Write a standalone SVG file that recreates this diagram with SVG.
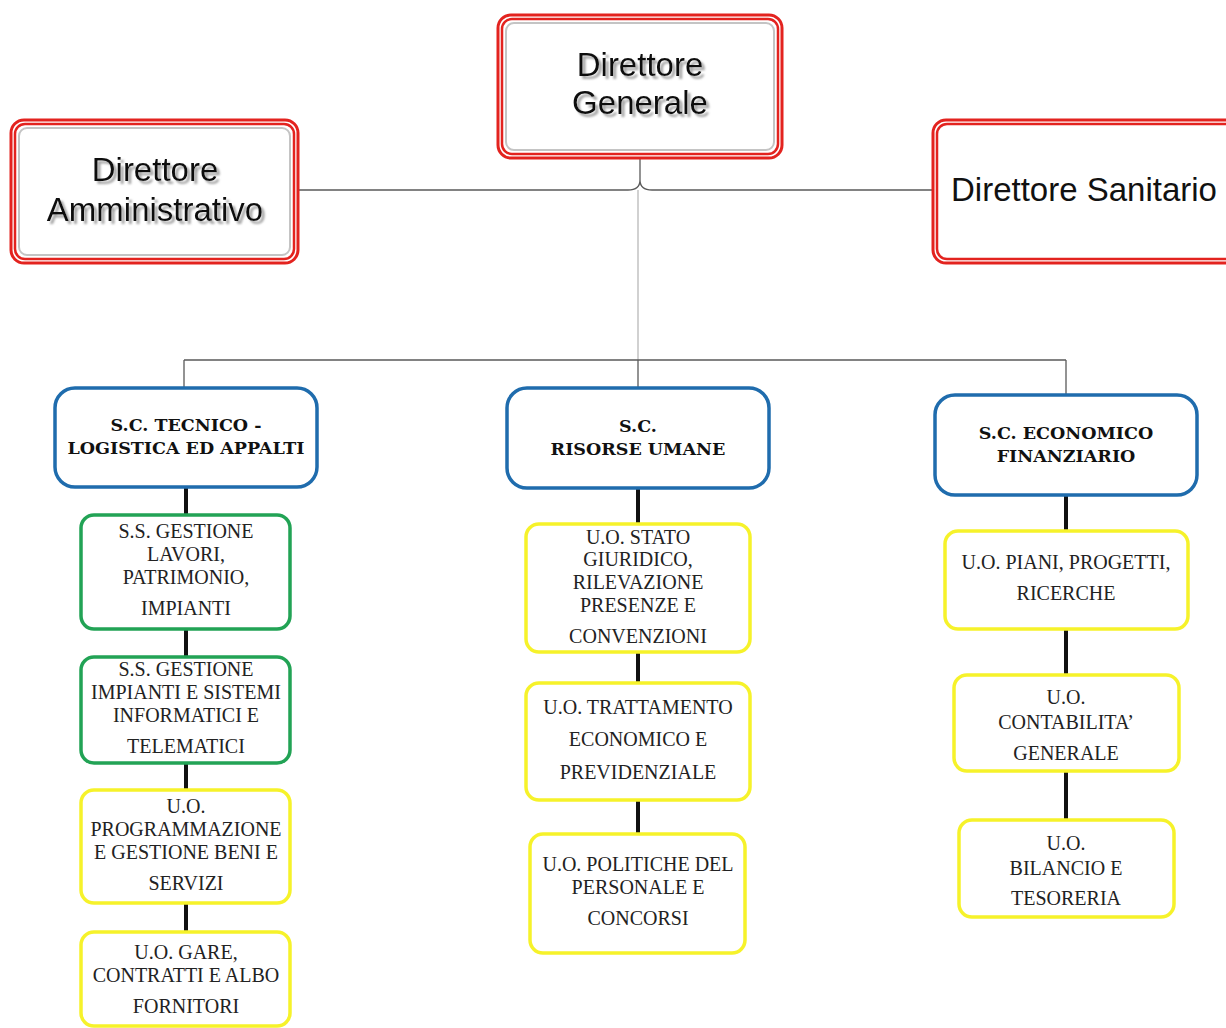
<svg xmlns="http://www.w3.org/2000/svg" width="1226" height="1028" viewBox="0 0 1226 1028">
<defs>
<filter id="tshadow" x="-10%" y="-20%" width="130%" height="150%">
<feDropShadow dx="3" dy="3" stdDeviation="0.8" flood-color="#9a9a9a" flood-opacity="0.9"/>
</filter>
</defs>
<style>
.r1{fill:#fff;stroke:#e3231f;stroke-width:3}
.r2{fill:none;stroke:#e3231f;stroke-width:2.5}
.r3{fill:none;stroke:#c4c4c4;stroke-width:2}
.dt{font-family:"Liberation Sans",Arial,sans-serif;font-size:33px;fill:#111;text-anchor:middle}
.shd{filter:url(#tshadow)}
.sc{fill:#fff;stroke:#1f6cad;stroke-width:3.5}
.gr{fill:#fff;stroke:#22a355;stroke-width:3.5}
.ye{fill:#fff;stroke:#f6f22a;stroke-width:3.5}
.bh{font-family:"DejaVu Serif",serif;font-weight:bold;font-size:17.5px;fill:#111;text-anchor:middle}
.tx{font-family:"Liberation Serif","Times New Roman",serif;font-size:20px;fill:#222;text-anchor:middle}
.thin{fill:none;stroke:#5a5a5a;stroke-width:1.3}
.thick{fill:none;stroke:#111;stroke-width:4}
</style>
<g id="connectors">
<path class="thin" d="M299 190 H628 Q640 190 640 180 Q640 190 652 190 H932"/>
<path class="thin" d="M640 180 V159"/>
<path d="M638 190 V360" fill="none" stroke="#b8b8b8" stroke-width="1.3"/>
<path class="thin" d="M184 360 H1066 M184 360 V388 M638 360 V388 M1066 360 V395"/>
<path class="thick" d="M186 487 V515 M186 629 V657 M186 763 V790 M186 903 V932"/>
<path class="thick" d="M638 488 V524 M638 652 V683 M638 800 V834"/>
<path class="thick" d="M1066 495 V531 M1066 629 V675 M1066 771 V820"/>
</g>
<g id="dg">
<rect class="r1" x="498" y="15" width="284" height="143" rx="13"/>
<rect class="r2" x="502" y="19" width="276" height="135" rx="10"/>
<rect class="r3" x="506" y="23" width="268" height="127" rx="8"/>
<text class="dt shd" x="640" y="76">Direttore</text>
<text class="dt shd" x="640" y="114">Generale</text>
</g>
<g id="da">
<rect class="r1" x="11" y="120" width="287" height="143" rx="13"/>
<rect class="r2" x="15" y="124" width="279" height="135" rx="10"/>
<rect class="r3" x="19" y="128" width="271" height="127" rx="8"/>
<text class="dt shd" x="155" y="181">Direttore</text>
<text class="dt shd" x="155" y="221">Amministrativo</text>
</g>
<g id="ds">
<rect class="r1" x="933" y="120" width="310" height="143" rx="13"/>
<rect class="r2" x="937" y="124" width="302" height="135" rx="10"/>
<text class="dt" x="1084" y="201">Direttore Sanitario</text>
</g>
<g id="sc-tecnico">
<rect class="sc" x="55" y="388" width="262" height="99" rx="20"/>
<text class="bh" x="186" y="431">S.C. TECNICO -</text>
<text class="bh" x="186" y="454">LOGISTICA ED APPALTI</text>
</g>
<g id="sc-risorse">
<rect class="sc" x="507" y="388" width="262" height="100" rx="20"/>
<text class="bh" x="638" y="432">S.C.</text>
<text class="bh" x="638" y="455">RISORSE UMANE</text>
</g>
<g id="sc-economico">
<rect class="sc" x="935" y="395" width="262" height="100" rx="20"/>
<text class="bh" x="1066" y="439">S.C. ECONOMICO</text>
<text class="bh" x="1066" y="462">FINANZIARIO</text>
</g>
<g id="ss-lavori">
<rect class="gr" x="81" y="515" width="209" height="114" rx="13"/>
<text class="tx" x="186" y="538">S.S. GESTIONE</text>
<text class="tx" x="186" y="561">LAVORI,</text>
<text class="tx" x="186" y="584">PATRIMONIO,</text>
<text class="tx" x="186" y="615">IMPIANTI</text>
</g>
<g id="ss-impianti">
<rect class="gr" x="81" y="657" width="209" height="106" rx="13"/>
<text class="tx" x="186" y="676">S.S. GESTIONE</text>
<text class="tx" x="186" y="699">IMPIANTI E SISTEMI</text>
<text class="tx" x="186" y="722">INFORMATICI E</text>
<text class="tx" x="186" y="753">TELEMATICI</text>
</g>
<g id="uo-programmazione">
<rect class="ye" x="81" y="790" width="209" height="113" rx="13"/>
<text class="tx" x="186" y="813">U.O.</text>
<text class="tx" x="186" y="836">PROGRAMMAZIONE</text>
<text class="tx" x="186" y="859">E GESTIONE BENI E</text>
<text class="tx" x="186" y="890">SERVIZI</text>
</g>
<g id="uo-gare">
<rect class="ye" x="81" y="932" width="209" height="94" rx="13"/>
<text class="tx" x="186" y="959">U.O. GARE,</text>
<text class="tx" x="186" y="982">CONTRATTI E ALBO</text>
<text class="tx" x="186" y="1013">FORNITORI</text>
</g>
<g id="uo-stato">
<rect class="ye" x="526" y="524" width="224" height="128" rx="13"/>
<text class="tx" x="638" y="544">U.O. STATO</text>
<text class="tx" x="638" y="566">GIURIDICO,</text>
<text class="tx" x="638" y="589">RILEVAZIONE</text>
<text class="tx" x="638" y="612">PRESENZE E</text>
<text class="tx" x="638" y="643">CONVENZIONI</text>
</g>
<g id="uo-trattamento">
<rect class="ye" x="526" y="683" width="224" height="117" rx="13"/>
<text class="tx" x="638" y="714">U.O. TRATTAMENTO</text>
<text class="tx" x="638" y="746">ECONOMICO E</text>
<text class="tx" x="638" y="779">PREVIDENZIALE</text>
</g>
<g id="uo-politiche">
<rect class="ye" x="530" y="834" width="215" height="119" rx="13"/>
<text class="tx" x="638" y="871">U.O. POLITICHE DEL</text>
<text class="tx" x="638" y="894">PERSONALE E</text>
<text class="tx" x="638" y="925">CONCORSI</text>
</g>
<g id="uo-piani">
<rect class="ye" x="945" y="531" width="243" height="98" rx="13"/>
<text class="tx" x="1066" y="569">U.O. PIANI, PROGETTI,</text>
<text class="tx" x="1066" y="600">RICERCHE</text>
</g>
<g id="uo-contabilita">
<rect class="ye" x="954" y="675" width="225" height="96" rx="13"/>
<text class="tx" x="1066" y="704">U.O.</text>
<text class="tx" x="1066" y="729">CONTABILITA’</text>
<text class="tx" x="1066" y="760">GENERALE</text>
</g>
<g id="uo-bilancio">
<rect class="ye" x="959" y="820" width="215" height="97" rx="13"/>
<text class="tx" x="1066" y="850">U.O.</text>
<text class="tx" x="1066" y="875">BILANCIO E</text>
<text class="tx" x="1066" y="905">TESORERIA</text>
</g>
</svg>
